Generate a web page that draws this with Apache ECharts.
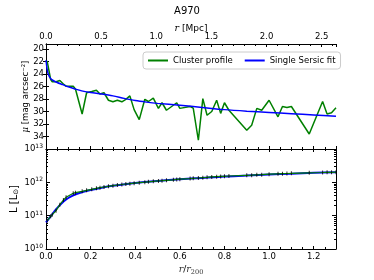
<!DOCTYPE html>
<html>
<head>
<meta charset="utf-8">
<script src="https://cdn.jsdelivr.net/npm/echarts@6/dist/echarts.min.js"></script>
<style>html,body{margin:0;padding:0;background:#fff}#c{width:374px;height:280px}</style>
</head>
<body>
<div id="c"></div>
<script>
// r / r200 of the profile bins
var profR = [0.005,0.021,0.028,0.045,0.062,0.078,0.09,0.122,0.132,0.162,0.182,0.205,0.226,0.242,0.26,0.28,0.3,0.32,0.34,0.358,0.376,0.395,0.418,0.443,0.459,0.481,0.504,0.52,0.54,0.571,0.586,0.6,0.646,0.66,0.683,0.703,0.722,0.743,0.765,0.783,0.8,0.82,0.9,0.922,0.945,0.967,1.0,1.04,1.06,1.08,1.1,1.18,1.24,1.26,1.28,1.3];
// surface brightness mu [mag arcsec^-2]
var profMu = [21.9,24.9,25.25,25.25,25.05,25.6,25.95,25.95,26.4,30.4,27.0,26.8,26.6,27.2,27.0,28.2,28.45,28.2,28.45,28.05,27.5,29.7,31.3,28.05,28.4,27.85,29.5,28.6,29.8,29.0,28.6,29.5,29.2,29.45,34.6,27.95,30.6,30.0,28.2,30.3,28.6,29.8,33.0,32.2,29.5,29.8,28.2,30.85,29.2,29.35,29.2,33.6,28.4,30.4,30.2,29.4];
// cumulative luminosity [Lsun]
var profL = [7.08e10,9.55e10,1.07e11,1.41e11,2.14e11,2.95e11,3.55e11,4.68e11,4.9e11,5.37e11,5.75e11,6.17e11,6.61e11,6.92e11,7.24e11,7.59e11,7.94e11,8.32e11,8.61e11,8.91e11,9.12e11,9.44e11,9.77e11,1.01e12,1.035e12,1.07e12,1.10e12,1.12e12,1.15e12,1.19e12,1.22e12,1.24e12,1.30e12,1.32e12,1.35e12,1.38e12,1.41e12,1.45e12,1.48e12,1.50e12,1.51e12,1.55e12,1.62e12,1.64e12,1.68e12,1.70e12,1.76e12,1.80e12,1.82e12,1.84e12,1.86e12,1.93e12,1.97e12,2.0e12,2.0e12,2.02e12];
// Sersic fit, surface brightness
var fitMuR = [0,0.005,0.01,0.02,0.03,0.05,0.075,0.1,0.13,0.16,0.2,0.25,0.3,0.35,0.4,0.45,0.5,0.6,0.7,0.8,0.9,1.0,1.1,1.2,1.3];
var fitMu = [21.8,23.2,24.0,24.7,25.0,25.35,25.7,26.05,26.4,26.7,26.95,27.2,27.5,27.9,28.25,28.5,28.7,29.0,29.35,29.7,29.95,30.15,30.35,30.55,30.75];
// Sersic fit, cumulative luminosity
var fitLR = [0,0.02,0.04,0.06,0.08,0.1,0.12,0.15,0.2,0.25,0.3,0.4,0.5,0.6,0.7,0.8,0.9,1.0,1.1,1.2,1.3];
var fitL = [6.31e10,9.33e10,1.41e11,2.0e11,2.69e11,3.39e11,3.98e11,4.79e11,5.89e11,6.92e11,7.85e11,9.55e11,1.10e12,1.23e12,1.36e12,1.50e12,1.60e12,1.72e12,1.82e12,1.93e12,2.02e12];
var muTicks = [20,22,24,26,28,30,32,34];
var logMinor = [];
[1e10,1e11,1e12].forEach(function(d){ for (var k=2;k<10;k++) logMinor.push(k*d); });

function zip(a,b){ return a.map(function(v,i){ return [v,b[i]]; }); }

var F = 'DejaVu Sans';
var lbl = { fontFamily: F, fontSize: 8.5, color: '#000' };
var line = { show: true, lineStyle: { color: '#000', width: 1 } };
function tick(len){ return { show: true, inside: true, length: len, lineStyle: { color: '#000', width: 1 } }; }
var minor = { show: true, splitNumber: 4, length: 2, lineStyle: { color: '#000', width: 1 } };

var chart = echarts.init(document.getElementById('c'), null, { renderer: 'canvas' });
chart.setOption({
  animation: false,
  backgroundColor: '#fff',
  title: { text: 'A970', left: 'center', top: 1, textStyle: { fontFamily: F, fontSize: 10, fontWeight: 'normal', color: '#000' } },
  legend: {
    left: 143, top: 52, data: ['Cluster profile', 'Single Sersic fit'],
    icon: 'rect', itemWidth: 20, itemHeight: 2, itemGap: 12,
    padding: [4, 5], borderColor: '#ccc', borderWidth: 1, borderRadius: 3, backgroundColor: '#fff',
    textStyle: { fontFamily: F, fontSize: 8.5, color: '#000' }
  },
  grid: [
    { left: 46, right: 38, top: 44, height: 105 },
    { left: 46, right: 38, top: 149, height: 100 }
  ],
  xAxis: [
    { gridIndex: 0, type: 'value', position: 'top', min: 0, max: 2.63, interval: 0.5,
      name: '{i|r} [Mpc]', nameLocation: 'middle', nameGap: 10, nameMoveOverlap: false,
      nameTextStyle: { fontFamily: F, fontSize: 9, color: '#000', rich: { i: { fontFamily: 'DejaVu Serif', fontStyle: 'italic', fontSize: 9.5 } } },
      axisLine: line, axisTick: tick(3), minorTick: { show: true, splitNumber: 5, length: 2, lineStyle: { color: '#000' } },
      axisLabel: Object.assign({ margin: 3, showMaxLabel: false, formatter: function(v){ return v.toFixed(1); } }, lbl), splitLine: { show: false } },
    { gridIndex: 0, type: 'value', position: 'bottom', min: 0, max: 1.3, interval: 0.2,
      axisLine: line, axisTick: tick(3), minorTick: minor, axisLabel: { show: false }, splitLine: { show: false } },
    { gridIndex: 1, type: 'value', position: 'bottom', min: 0, max: 1.3, interval: 0.2,
      name: '{i|r}/{i|r}{s|200}', nameLocation: 'middle', nameGap: 15, nameMoveOverlap: false,
      nameTextStyle: { fontFamily: F, fontSize: 9, color: '#000', rich: { i: { fontFamily: 'DejaVu Serif', fontStyle: 'italic', fontSize: 9.5, color: '#333' }, s: { fontFamily: 'DejaVu Serif', fontSize: 6.5, color: '#333', verticalAlign: 'bottom', padding: [5,0,0,0] } } },
      axisLine: line, axisTick: tick(3), minorTick: minor,
      axisLabel: Object.assign({ margin: 3, showMaxLabel: false, formatter: function(v){ return v.toFixed(1); } }, lbl), splitLine: { show: false } },
    { gridIndex: 1, type: 'value', position: 'top', min: 0, max: 1.3, interval: 0.2,
      axisLine: line, axisTick: tick(3), minorTick: minor, axisLabel: { show: false }, splitLine: { show: false } }
  ],
  yAxis: [
    { gridIndex: 0, type: 'value', inverse: true, min: 19.2, max: 36.0, position: 'left',
      name: '{m|μ} [mag arcsec⁻²]', nameLocation: 'middle', nameGap: 16, nameRotate: 90, nameMoveOverlap: false,
      nameTextStyle: { fontFamily: F, fontSize: 8.5, color: '#000', rich: { m: { fontFamily: 'DejaVu Serif', fontStyle: 'italic', fontSize: 8.5 } } },
      axisLine: line, axisTick: Object.assign(tick(3), { customValues: muTicks }),
      axisLabel: Object.assign({ margin: 2, customValues: muTicks }, lbl), splitLine: { show: false } },
    { gridIndex: 0, type: 'value', inverse: true, min: 19.2, max: 36.0, position: 'right',
      axisLine: line, axisTick: Object.assign(tick(3), { customValues: muTicks }), axisLabel: { show: false }, splitLine: { show: false } },
    { gridIndex: 1, type: 'log', logBase: 10, min: 1e10, max: 1e13, position: 'left',
      name: 'L [L{s|⊙}]', nameLocation: 'middle', nameGap: 26, nameRotate: 90, nameMoveOverlap: false,
      nameTextStyle: { fontFamily: F, fontSize: 10, color: '#000', rich: { s: { fontFamily: F, fontSize: 7, verticalAlign: 'bottom', padding: [4,0,0,0] } } },
      axisLine: line, axisTick: tick(4),
      axisLabel: Object.assign({ margin: 3, formatter: function(v){ return '10{s|' + Math.round(Math.log10(v)) + '}'; },
        rich: { s: { fontFamily: F, fontSize: 6, verticalAlign: 'top', padding: [0,0,5,0] } } }, lbl), splitLine: { show: false } },
    { gridIndex: 1, type: 'log', logBase: 10, min: 1e10, max: 1e13, position: 'left',
      axisLine: { show: false }, axisTick: Object.assign(tick(2), { customValues: logMinor }), axisLabel: { show: false }, splitLine: { show: false } },
    { gridIndex: 1, type: 'log', logBase: 10, min: 1e10, max: 1e13, position: 'right',
      axisLine: line, axisTick: tick(4), axisLabel: { show: false }, splitLine: { show: false } },
    { gridIndex: 1, type: 'log', logBase: 10, min: 1e10, max: 1e13, position: 'right',
      axisLine: { show: false }, axisTick: Object.assign(tick(2), { customValues: logMinor }), axisLabel: { show: false }, splitLine: { show: false } }
  ],
  series: [
    { name: 'Cluster profile', type: 'line', xAxisIndex: 1, yAxisIndex: 0, data: zip(profR, profMu), showSymbol: false, symbol: 'none',
      itemStyle: { color: '#008000' }, lineStyle: { color: '#008000', width: 1.5 }, z: 2 },
    { name: 'Single Sersic fit', type: 'line', xAxisIndex: 1, yAxisIndex: 0, data: zip(fitMuR, fitMu), showSymbol: false, symbol: 'none', smooth: 0.3,
      itemStyle: { color: '#0000ff' }, lineStyle: { color: '#0000ff', width: 1.5 }, z: 3 },
    { name: 'Single Sersic fit', type: 'line', xAxisIndex: 2, yAxisIndex: 2, data: zip(fitLR, fitL), showSymbol: false, symbol: 'none', smooth: 0.3,
      itemStyle: { color: '#0000ff' }, lineStyle: { color: '#0000ff', width: 2 }, z: 2 },
    { name: 'Cluster profile', type: 'line', xAxisIndex: 2, yAxisIndex: 2, data: zip(profR, profL), showSymbol: false, symbol: 'none',
      itemStyle: { color: '#008000' }, lineStyle: { color: '#008000', width: 1.2 }, z: 3 },
    { name: 'errors', type: 'scatter', xAxisIndex: 2, yAxisIndex: 2, data: zip(profR, profL), symbol: 'rect', symbolSize: [1, 4],
      itemStyle: { color: '#000' }, z: 4, silent: true }
  ]
});
</script>
</body>
</html>
